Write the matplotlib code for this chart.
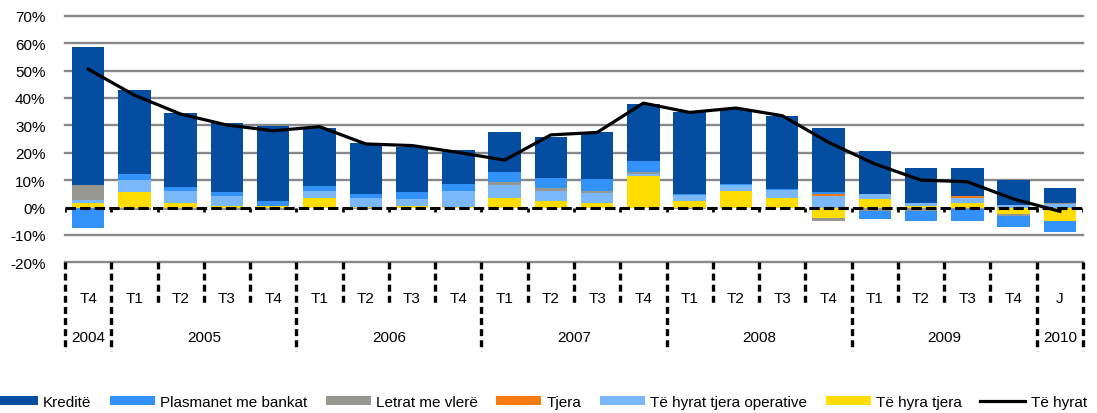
import matplotlib
matplotlib.use("Agg")
import matplotlib.pyplot as plt
from matplotlib.patches import Patch
from matplotlib.lines import Line2D
import numpy as np

plt.rcParams['font.family'] = ['Liberation Sans', 'DejaVu Sans']
plt.rcParams['lines.scale_dashes'] = False

# ---------------- data ----------------
quarters = ["T4", "T1", "T2", "T3", "T4", "T1", "T2", "T3", "T4", "T1", "T2",
            "T3", "T4", "T1", "T2", "T3", "T4", "T1", "T2", "T3", "T4", "J"]
years = ["2004", "2005", "2006", "2007", "2008", "2009", "2010"]
year_counts = [1, 4, 4, 4, 4, 4, 1]

te_hyra_tjera = [1.5, 5.5, 1.8, 0.7, 0.7, 3.6, 0.3, 0.4, 0.3, 3.6, 2.4, 1.6, 11.6,
                 2.4, 6.0, 3.6, -3.8, 3.0, 0.7, 1.6, -2.3, -5.0]
te_hyrat_operative = [1.2, 4.7, 4.3, 3.5, 0.0, 2.4, 3.0, 2.7, 5.8, 4.5, 3.7, 3.8, 0.6,
                      2.2, 2.3, 2.9, 4.2, 1.8, 1.1, 2.0, 1.0, 1.1]
letrat = [5.6, -0.8, -0.8, -0.8, -0.8, 0.0, -0.4, 0.0, 0.0, 1.2, 1.1, 0.7, 0.6,
          -0.5, 0.0, 0.0, -1.2, -1.3, -1.3, -0.5, -0.7, 0.5]
tjera = [0.0, 0.0, 0.0, 0.0, 0.0, 0.0, 0.0, 0.0, 0.0, 0.0, 0.0, 0.0, 0.0,
         0.0, 0.0, 0.0, 0.6, 0.0, 0.0, 0.6, 0.0, 0.0]
plasmanet = [-7.5, 2.1, 1.2, 1.3, 1.6, 1.9, 1.8, 2.4, 2.4, 3.6, 3.7, 4.2, 4.2,
             0.3, 0.4, 0.3, 0.7, -3.0, -3.7, -4.5, -4.1, -4.0]
kredite = [50.3, 30.6, 27.2, 25.3, 27.3, 21.1, 18.4, 16.7, 12.5, 14.8, 14.9, 17.4, 20.7,
           29.8, 27.3, 26.5, 23.4, 15.9, 12.6, 10.2, 9.0, 5.4]
te_hyrat = [50.5, 41.0, 34.1, 30.1, 28.0, 29.5, 23.2, 22.6, 20.1, 17.3, 26.5, 27.4, 38.1,
            34.7, 36.3, 33.5, 23.8, 15.9, 10.0, 9.4, 3.1, -1.4]

y_ticks = [-20, -10, 0, 10, 20, 30, 40, 50, 60, 70]
y_labels = ["-20%", "-10%", "0%", "10%", "20%", "30%", "40%", "50%", "60%", "70%"]

# stacking order (bottom -> top)
series = [
    ("Të hyra tjera", te_hyra_tjera, "#FFDD00"),
    ("Të hyrat tjera operative", te_hyrat_operative, "#7AB8FA"),
    ("Letrat me vlerë", letrat, "#979791"),
    ("Tjera", tjera, "#F77B12"),
    ("Plasmanet me bankat", plasmanet, "#3392F7"),
    ("Kreditë", kredite, "#054DA1"),
]
legend_order = ["Kreditë", "Plasmanet me bankat", "Letrat me vlerë", "Tjera",
                "Të hyrat tjera operative", "Të hyra tjera"]

W, H = 1097, 414
fig = plt.figure(figsize=(W / 100, H / 100), dpi=100)
left_px, right_px, top_px, bot_px = 65, 1083, 16.7, 263.3
ax = fig.add_axes([left_px / W, 1 - bot_px / H, (right_px - left_px) / W, (bot_px - top_px) / H])

n = len(quarters)
x = np.arange(n)
ax.set_xlim(-0.5, n - 0.5)
ax.set_ylim(-20, 70)

# gridlines (gray), except at 0
for yv in y_ticks:
    if yv != 0:
        ax.axhline(yv, color="#888888", lw=1.7, zorder=0, clip_on=False)

pos = np.zeros(n)
neg = np.zeros(n)
handles = {}
for name, vals, col in series:
    v = np.array(vals)
    bottom = np.where(v >= 0, pos, neg)
    ax.bar(x, v, width=0.70, bottom=bottom, color=col, edgecolor="none", zorder=2)
    pos = pos + np.where(v > 0, v, 0)
    neg = neg + np.where(v < 0, v, 0)
    handles[name] = Patch(facecolor=col, edgecolor="none")

# zero axis: dashed black line with small ticks at category boundaries
ax.plot([-0.5, n - 0.5], [0, 0], color="black", lw=2.2, linestyle=(0, (7.5, 3.0)), zorder=4,
        solid_capstyle="butt", dash_capstyle="butt")
for b in np.arange(-0.5, n, 1.0):
    ax.plot([b, b], [0, -1.5], color="black", lw=2.0, zorder=4, solid_capstyle="butt")

# total line
ax.plot(x, te_hyrat, color="black", lw=2.3, zorder=5, solid_joinstyle="round")

# y axis
ax.set_yticks(y_ticks)
ax.set_yticklabels(y_labels, fontsize=11)
ax.tick_params(axis="y", length=0, pad=14)
for s in ax.spines.values():
    s.set_visible(False)

# x category labels
ax.set_xticks(x)
ax.set_xticklabels(quarters, fontsize=11)
ax.tick_params(axis="x", length=0, pad=21)

trans = ax.get_xaxis_transform()
axh = bot_px - top_px
q_end = -(307 - bot_px) / axh
y_end = -(352 - bot_px) / axh
# dividers
year_bounds = [-0.5]
for c in year_counts:
    year_bounds.append(year_bounds[-1] + c)
for b in np.arange(-0.5, n, 1.0):
    yb = y_end if any(abs(b - yb_) < 1e-6 for yb_ in year_bounds) else q_end
    ax.plot([b, b], [0, yb], transform=trans, color="black", lw=2.4, clip_on=False,
            linestyle=(0, (5.0, 3.0)), dash_capstyle="butt")
# year labels
for i, yr in enumerate(years):
    center = (year_bounds[i] + year_bounds[i + 1]) / 2
    ax.text(center, -(338 - bot_px) / axh, yr, transform=trans, ha="center", va="center",
            fontsize=11)

# legend
leg_handles = [handles[nm] for nm in legend_order] + [Line2D([0], [0], color="black", lw=2.3)]
leg_labels = legend_order + ["Të hyrat"]
fig.legend(leg_handles, leg_labels, loc="center", bbox_to_anchor=(0.492, (H - 403) / H), ncol=7,
           frameon=False, fontsize=11, handlelength=2.95, handleheight=0.6,
           handletextpad=0.35, columnspacing=1.2, borderaxespad=0, borderpad=0)

fig.savefig("out.png", dpi=100)
